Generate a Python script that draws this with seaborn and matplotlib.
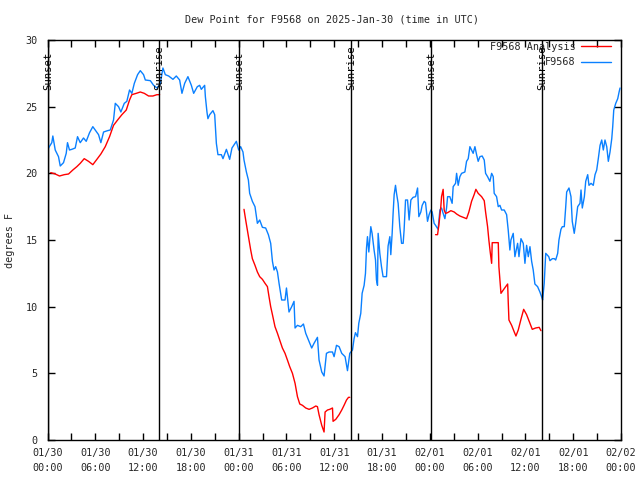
import numpy as np
import pandas as pd
import matplotlib
matplotlib.use("Agg")
import matplotlib.pyplot as plt
import seaborn as sns
from matplotlib.lines import Line2D

# ---------------- data (hours since 2025-01-30 00:00 UTC) ----------------
obs_hours = [0.0, 0.13, 0.54, 0.67, 0.97, 1.38, 1.60, 2.01, 2.35, 2.51, 2.76, 3.05, 3.48, 3.77,
             4.11, 4.52, 4.86, 5.28, 5.69, 5.99, 6.41, 6.70, 7.04, 7.54, 7.88, 8.29, 8.51, 8.92,
             9.21, 9.64, 9.96, 10.30, 10.59, 10.90, 11.31, 11.65, 12.06, 12.28, 12.91, 13.32,
             13.74, 14.16, 14.49, 14.79, 15.21, 15.75, 16.17, 16.59, 16.88, 17.22, 17.63, 18.06,
             18.35, 18.81, 19.10, 19.31, 19.73, 19.82, 20.02, 20.14, 20.36, 20.77, 20.99, 21.20,
             21.40, 21.83, 22.03, 22.46, 22.87, 23.16, 23.71, 24.00, 24.25, 24.54, 24.67, 24.97,
             25.22, 25.38, 25.72, 26.05, 26.35, 26.64, 26.98, 27.39, 27.73, 28.02, 28.24, 28.44,
             28.65, 28.87, 29.07, 29.40, 29.82, 30.00, 30.32, 30.66, 30.95, 31.08, 31.38, 31.79,
             32.13, 32.42, 32.76, 33.17, 33.46, 33.89, 34.09, 34.43, 34.72, 35.02, 35.35, 35.78,
             35.98, 36.28, 36.61, 36.94, 37.36, 37.66, 37.95, 38.29, 38.49, 38.66, 38.92, 39.08,
             39.33, 39.50, 39.75, 39.92, 40.05, 40.17, 40.34, 40.59, 40.75, 41.00, 41.18, 41.30,
             41.43, 41.51, 41.72, 41.93, 42.13, 42.56, 42.76, 42.98, 43.10, 43.27, 43.39, 43.52,
             43.69, 43.82, 44.02, 44.23, 44.45, 44.65, 44.77, 44.95, 45.20, 45.40, 45.62, 45.90,
             46.21, 46.46, 46.62, 46.87, 47.04, 47.29, 47.46, 47.71, 47.91, 48.13, 48.29, 48.54,
             48.72, 49.04, 49.26, 49.47, 49.67, 49.89, 50.10, 50.23, 50.51, 50.80, 50.93, 51.23,
             51.36, 51.56, 51.77, 51.99, 52.40, 52.61, 52.82, 53.03, 53.24, 53.44, 53.66, 53.87,
             54.07, 54.29, 54.57, 54.83, 55.00, 55.25, 55.54, 55.76, 55.96, 56.08, 56.38, 56.59,
             56.80, 57.01, 57.34, 57.64, 57.84, 58.05, 58.18, 58.47, 58.68, 59.02, 59.19, 59.44,
             59.73, 59.94, 60.15, 60.36, 60.57, 60.78, 60.98, 61.19, 61.53, 61.82, 62.03, 62.16,
             62.36, 62.55, 62.93, 63.08, 63.38, 63.63, 63.80, 64.05, 64.21, 64.46, 64.63, 64.88,
             65.05, 65.18, 65.47, 65.72, 65.88, 66.13, 66.31, 66.56, 66.85, 66.98, 67.14, 67.40,
             67.57, 67.82, 67.98, 68.24, 68.52, 68.74, 68.95, 69.15, 69.37, 69.58, 69.78, 69.99,
             70.21, 70.41, 70.62, 70.84, 70.96, 71.09, 71.34, 71.59, 71.76, 71.88]
obs_dewpt = [21.5, 21.9, 22.3, 22.8, 21.75, 21.25, 20.55, 20.8, 21.5, 22.3, 21.75, 21.8, 21.9, 22.75,
             22.3, 22.65, 22.4, 23.05, 23.5, 23.25, 22.9, 22.3, 23.1, 23.2, 23.25, 24.0, 25.25, 25.0,
             24.6, 25.25, 25.4, 26.25, 26.0, 26.75, 27.4, 27.7, 27.4, 27.0, 26.95, 26.6,
             26.4, 26.7, 27.9, 27.4, 27.3, 27.05, 27.3, 27.0, 26.0, 26.75, 27.25, 26.6,
             26.0, 26.5, 26.6, 26.3, 26.6, 25.75, 24.6, 24.1, 24.4, 24.7, 24.4, 22.25,
             21.4, 21.4, 21.1, 21.8, 21.05, 21.9, 22.4, 21.75, 22.0, 21.6, 21.0, 20.1,
             19.5, 18.5, 17.9, 17.5, 16.25, 16.5, 15.95, 15.9, 15.4, 14.75, 13.4, 12.75,
             13.0, 12.6, 11.75, 10.5, 10.5, 11.4, 9.6, 10.0, 10.4, 8.4, 8.6, 8.5,
             8.7, 8.0, 7.5, 6.9, 7.25, 7.7, 6.0, 5.1, 4.8, 6.5, 6.6, 6.6,
             6.25, 7.1, 7.0, 6.5, 6.25, 5.2, 6.5, 6.75, 7.6, 8.05, 7.75, 8.75,
             9.5, 11.0, 11.6, 12.5, 14.4, 15.25, 14.1, 16.0, 15.5, 14.25, 13.5, 12.0,
             11.6, 15.5, 14.0, 13.0, 12.25, 12.25, 14.55, 15.25, 13.9, 15.5, 17.0, 18.4,
             19.1, 18.5, 17.75, 16.0, 14.75, 14.75, 15.75, 18.0, 18.0, 16.5, 18.0, 18.2,
             18.25, 18.9, 16.75, 17.1, 17.6, 17.9, 17.8, 16.4, 16.9, 17.25, 17.1, 16.25,
             16.1, 15.8, 17.25, 17.4, 17.0, 16.6, 17.4, 18.25, 18.25, 17.75, 19.0, 19.25,
             20.0, 19.1, 19.75, 20.0, 20.1, 20.9, 21.1, 22.0, 21.75, 21.5, 22.0, 21.4,
             20.9, 21.25, 21.3, 21.0, 20.0, 19.75, 19.4, 20.0, 19.75, 18.5, 18.25, 17.5,
             17.6, 17.25, 17.25, 16.9, 15.75, 14.25, 15.0, 15.5, 13.75, 14.75, 13.75, 15.1,
             14.75, 13.25, 14.6, 13.75, 14.5, 13.4, 12.75, 11.7, 11.5, 11.1, 10.75, 10.5,
             11.75, 14.0, 13.75, 13.45, 13.6, 13.6, 13.5, 14.0, 15.0, 15.8, 16.0, 16.0,
             17.4, 18.6, 18.9, 18.25, 16.4, 15.5, 16.25, 17.5, 17.75, 18.75, 17.4, 18.25,
             19.4, 19.9, 19.1, 19.25, 19.1, 19.9, 20.25, 21.1, 22.1, 22.5, 21.75, 22.5,
             22.0, 20.9, 21.6, 22.6, 23.5, 24.75, 25.25, 25.6, 26.1, 26.4]

# Analysis series: three separate segments (gaps between them)
ana_seg1_hours = [0.41, 0.97, 1.51, 2.10, 2.64, 3.18, 3.68, 4.11, 4.61, 5.15, 5.69, 6.20, 6.70,
                  7.25, 7.79, 8.29, 8.80, 9.34, 9.89, 10.30, 10.59, 11.15, 11.65, 12.15, 12.69,
                  13.23, 13.74, 14.07]
ana_seg1_dewpt = [20.05, 19.95, 19.8, 19.9, 19.95, 20.25, 20.5, 20.75, 21.1, 20.9, 20.65, 21.05,
                  21.45, 22.0, 22.75, 23.6, 24.0, 24.4, 24.75, 25.5, 25.9, 26.0, 26.1, 26.0,
                  25.8, 25.8, 25.9, 25.9]
ana_seg2_hours = [24.67, 24.88, 25.09, 25.30, 25.51, 25.72, 26.05, 26.35, 26.64, 26.98, 27.31,
                  27.61, 27.81, 28.02, 28.24, 28.56, 28.87, 29.15, 29.49, 29.82, 30.12, 30.41,
                  30.75, 31.08, 31.38, 31.67, 32.01, 32.42, 32.84, 33.26, 33.68, 33.89, 34.09,
                  34.43, 34.72, 34.85, 35.15, 35.44, 35.78, 35.85, 36.19, 36.61, 36.94, 37.23,
                  37.54, 37.79, 37.95]
ana_seg2_dewpt = [17.3, 16.5, 15.75, 15.0, 14.25, 13.6, 13.1, 12.6, 12.25, 12.05, 11.75, 11.5,
                  10.75, 10.0, 9.4, 8.5, 8.0, 7.5, 6.9, 6.5, 6.0, 5.5, 5.0, 4.25, 3.25, 2.7,
                  2.6, 2.4, 2.3, 2.4, 2.55, 2.5, 1.9, 1.1, 0.6, 2.1, 2.25, 2.3, 2.4, 1.4,
                  1.55, 1.9, 2.25, 2.6, 3.0, 3.2, 3.2]
ana_seg3_hours = [48.72, 48.97, 49.13, 49.38, 49.47, 49.67, 49.80, 49.97, 50.23, 50.64, 51.06,
                  51.36, 51.77, 52.19, 52.61, 52.90, 53.24, 53.56, 53.78, 54.07, 54.50, 54.83,
                  55.00, 55.25, 55.41, 55.58, 55.76, 55.83, 56.18, 56.59, 56.67, 56.93, 57.22,
                  57.52, 57.77, 57.84, 57.93, 58.27, 58.60, 58.81, 59.10, 59.44, 59.78, 60.15,
                  60.57, 60.86, 61.28, 61.73, 61.95]
ana_seg3_dewpt = [15.4, 15.4, 16.1, 17.5, 18.25, 18.8, 17.25, 17.0, 17.05, 17.2, 17.1, 16.95,
                  16.8, 16.7, 16.6, 17.1, 17.9, 18.4, 18.8, 18.5, 18.25, 17.95, 17.1, 16.0,
                  15.0, 14.1, 13.25, 14.8, 14.8, 14.8, 13.0, 11.0, 11.25, 11.5, 11.7, 10.4,
                  9.0, 8.6, 8.1, 7.8, 8.25, 9.05, 9.8, 9.4, 8.75, 8.3, 8.4, 8.45, 8.2]

sun_event_hours = [0.05, 14.05, 24.1, 38.15, 48.15, 62.1]
sun_event_labels = ["Sunset", "Sunrise", "Sunset", "Sunrise", "Sunset", "Sunrise"]

xtick_hours = [0, 6, 12, 18, 24, 30, 36, 42, 48, 54, 60, 66, 72]
xtick_labels = ["01/30\n00:00", "01/30\n06:00", "01/30\n12:00", "01/30\n18:00",
                "01/31\n00:00", "01/31\n06:00", "01/31\n12:00", "01/31\n18:00",
                "02/01\n00:00", "02/01\n06:00", "02/01\n12:00", "02/01\n18:00",
                "02/02\n00:00"]
ytick_values = [0, 5, 10, 15, 20, 25, 30]

title = "Dew Point for F9568 on 2025-Jan-30 (time in UTC)"
ylabel = "degrees F"
analysis_label = "F9568 Analysis"
obs_label = "F9568"

RED = "#ff0000"
BLUE = "#0a80ff"

# ---------------- plot ----------------
sns.set_theme(style="white")
plt.rcParams["font.family"] = ["DejaVu Sans Mono", "DejaVu Sans"]
FS = 7.3

fig = plt.figure(figsize=(6.4, 4.8), dpi=100)
ax = fig.add_axes([47.5 / 640, 40 / 480, (621 - 47.5) / 640, 400 / 480])

obs_df = pd.DataFrame({"hours": obs_hours, "dewpt": obs_dewpt})
sns.lineplot(data=obs_df, x="hours", y="dewpt", color=BLUE, lw=1.0, ax=ax,
             estimator=None, sort=False, zorder=3)

for hrs, vals in [(ana_seg1_hours, ana_seg1_dewpt),
                  (ana_seg2_hours, ana_seg2_dewpt),
                  (ana_seg3_hours, ana_seg3_dewpt)]:
    seg = pd.DataFrame({"hours": hrs, "dewpt": vals})
    sns.lineplot(data=seg, x="hours", y="dewpt", color=RED, lw=1.0, ax=ax,
                 estimator=None, sort=False, zorder=4)

for h, lab in zip(sun_event_hours, sun_event_labels):
    ax.axvline(h, color="black", lw=1.0, zorder=5)
    ax.text(h, 26.25, lab, rotation=90, ha="center", va="bottom",
            fontsize=FS + 0.4, color="black", zorder=6)

ax.set_xlim(0, 72)
ax.set_ylim(0, 30)
ax.set_xticks(xtick_hours)
ax.set_xticklabels(xtick_labels, fontsize=FS, linespacing=1.6)
ax.set_xticks([h + 3 for h in xtick_hours[:-1]], minor=True)
ax.set_yticks(ytick_values)
ax.set_yticklabels([str(v) for v in ytick_values], fontsize=FS)
ax.tick_params(axis="both", which="both", direction="in", top=True, right=True,
               bottom=True, left=True, length=5, width=1, color="black")
ax.tick_params(axis="x", which="major", pad=6)
ax.tick_params(axis="y", which="major", pad=7)
ax.set_xlabel("")
ax.set_ylabel(ylabel, fontsize=FS)
ax.yaxis.set_label_coords((15 - 47.5) / 573.5, 0.5)
for s in ax.spines.values():
    s.set_color("black")
    s.set_linewidth(1.0)
ax.grid(False)

fig.text(332 / 640, 1 - 19 / 480, title, ha="center", va="center", fontsize=FS)

handles = [Line2D([0], [0], color=RED, lw=1.0), Line2D([0], [0], color=BLUE, lw=1.0)]
ax.legend(handles, [analysis_label, obs_label], loc="upper right",
          bbox_to_anchor=(611 / 640, 1 - 42 / 480), bbox_transform=fig.transFigure,
          frameon=False, markerfirst=False, fontsize=FS,
          handlelength=3.0, handletextpad=0.5, labelspacing=0.5,
          borderpad=0, borderaxespad=0)

fig.savefig("out.png", dpi=100, facecolor="white")
